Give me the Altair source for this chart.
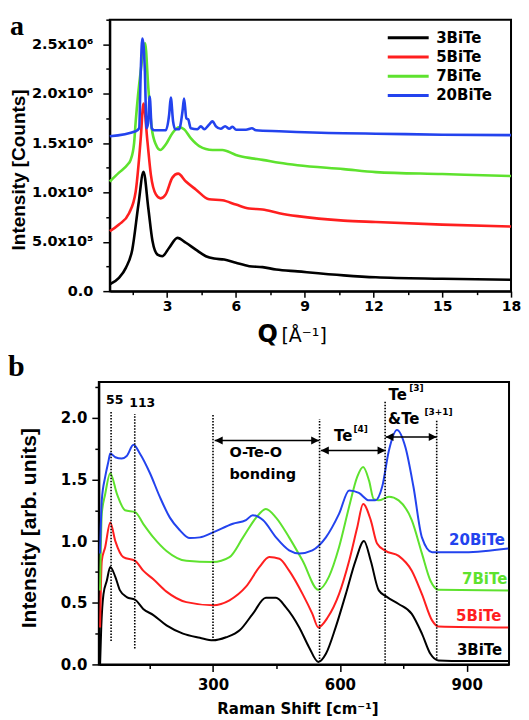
import altair as alt
import pandas as pd

SERIES = ["3BiTe", "5BiTe", "7BiTe", "20BiTe"]
COLORS = ["#000000", "#ff1f1f", "#5ee22e", "#2343ee"]
SANS = "DejaVu Sans"
TSANS = "Liberation Sans"
SERIF = "Liberation Serif"

# ---------------- panel a : Q [1/A] vs intensity (x1e6 counts) ----------------
A_Q_3 = [0.5, 0.9, 1.2, 1.48, 1.75, 1.97, 2.18, 2.36, 2.58, 2.79, 3.09, 3.45, 3.82, 4.25,
         4.69, 5.05, 5.49, 6.0, 6.58, 7.16, 7.75, 8.69, 10.7, 12.1, 15.0, 18.0]
A_I_3 = [0.07, 0.135, 0.236, 0.42, 0.88, 1.21, 0.84, 0.51, 0.37, 0.354, 0.44, 0.54, 0.49, 0.42,
         0.354, 0.33, 0.32, 0.287, 0.253, 0.243, 0.22, 0.2, 0.16, 0.14, 0.125, 0.115]
A_Q_5 = [0.5, 0.9, 1.34, 1.63, 1.78, 1.85, 1.97, 2.14, 2.29, 2.51, 2.72, 2.94, 3.23, 3.48, 3.82,
         4.25, 4.83, 5.41, 6.0, 6.58, 7.16, 7.89, 8.69, 10.7, 12.1, 15.0, 18.0]
A_I_5 = [0.607, 0.675, 0.79, 1.01, 1.35, 1.55, 1.90, 1.52, 1.18, 0.98, 0.94, 0.98, 1.15, 1.19, 1.11,
         1.03, 0.93, 0.92, 0.877, 0.837, 0.827, 0.79, 0.76, 0.714, 0.70, 0.674, 0.654]
A_Q_7 = [0.5, 0.9, 1.27, 1.41, 1.56, 1.63, 1.85, 2.04, 2.18, 2.33, 2.51, 2.7, 2.94, 3.23, 3.52,
         3.74, 4.03, 4.4, 4.98, 5.41, 6.0, 6.58, 7.16, 7.89, 8.69, 10.7, 12.1, 15.0, 18.0]
A_I_7 = [1.11, 1.2, 1.28, 1.33, 1.5, 1.72, 2.23, 2.51, 2.06, 1.65, 1.485, 1.43, 1.485, 1.6, 1.66,
         1.64, 1.55, 1.47, 1.43, 1.43, 1.38, 1.35, 1.33, 1.30, 1.275, 1.236, 1.206, 1.186, 1.166]
A_Q_20 = [0.5, 1.63, 1.78, 1.85, 1.92, 2.03, 2.1, 2.17, 2.24, 2.33, 2.43, 2.94, 3.09, 3.16, 3.26,
          3.35, 3.52, 3.67, 3.74, 3.84, 3.92, 4.03, 4.32, 4.47, 4.62, 4.83, 4.98, 5.13, 5.34,
          5.53, 5.71, 5.85, 6.01, 6.44, 6.7, 6.87, 7.89, 10.7, 12.1, 15.0, 18.0]
A_I_20 = [1.569, 1.62, 1.65, 2.23, 2.56, 2.23, 1.65, 1.70, 1.97, 1.65, 1.63, 1.63, 1.79, 1.96, 1.72,
          1.64, 1.64, 1.82, 1.95, 1.75, 1.74, 1.65, 1.64, 1.67, 1.64, 1.687, 1.72, 1.67, 1.645,
          1.67, 1.645, 1.665, 1.635, 1.635, 1.65, 1.63, 1.62, 1.60, 1.595, 1.585, 1.58]

A_XTICKS = [1.5, 3, 4.5, 6, 7.5, 9, 10.5, 12, 13.5, 15, 16.5, 18]
A_YTICKS = [i * 250000 for i in range(12)]

# ---------------- panel b : Raman shift vs intensity ----------------
B_X_3 = [33, 35.7, 41, 49, 57, 69, 80, 96, 116, 135, 159, 190, 229, 269, 300, 331, 363, 394, 425,
         449, 472, 504, 527, 549, 567, 590, 614, 637, 657, 673, 692, 712, 739, 770, 794, 814, 833,
         896, 998]
B_Y_3 = [0.0, 0.30, 0.57, 0.68, 0.79, 0.71, 0.60, 0.546, 0.524, 0.45, 0.40, 0.316, 0.25, 0.216,
         0.195, 0.22, 0.276, 0.41, 0.54, 0.54, 0.465, 0.30, 0.14, 0.02, 0.086, 0.30, 0.57, 0.84,
         1.0, 0.84, 0.60, 0.546, 0.49, 0.41, 0.25, 0.086, 0.032, 0.027, 0.027]
B_X_5 = [33, 37, 45, 57, 69, 88, 116, 135, 159, 190, 237, 300, 339, 378, 410, 433, 457, 480, 512,
         535, 549, 571, 598, 622, 641, 655, 673, 688, 708, 739, 770, 794, 818, 833, 998]
B_Y_5 = [0.30, 0.84, 0.95, 1.15, 1.0, 0.87, 0.84, 0.76, 0.69, 0.59, 0.505, 0.48, 0.52, 0.63, 0.79,
         0.87, 0.857, 0.76, 0.57, 0.41, 0.30, 0.38, 0.57, 0.84, 1.11, 1.30, 1.17, 0.98, 0.92, 0.88,
         0.76, 0.57, 0.357, 0.308, 0.30]
B_X_7 = [33, 37, 45, 57, 73, 92, 116, 135, 159, 190, 237, 300, 339, 371, 402, 425, 449, 480, 512,
         549, 574, 598, 622, 641, 655, 669, 680, 692, 716, 739, 770, 794, 814, 833, 998]
B_Y_7 = [0.60, 1.22, 1.38, 1.55, 1.38, 1.25, 1.235, 1.14, 1.03, 0.92, 0.84, 0.83, 0.87, 1.03, 1.19,
         1.26, 1.19, 1.03, 0.84, 0.605, 0.71, 0.95, 1.28, 1.52, 1.60, 1.49, 1.34, 1.33, 1.36, 1.33,
         1.17, 0.90, 0.68, 0.605, 0.60]
B_X_20 = [33, 37, 45, 53, 57, 69, 84, 96, 112, 127, 151, 174, 198, 221, 245, 269, 300, 347, 378,
          394, 418, 449, 480, 504, 535, 567, 598, 622, 645, 669, 684, 700, 716, 735, 755, 774, 794,
          818, 896, 998]
B_Y_20 = [0.90, 1.33, 1.52, 1.65, 1.71, 1.68, 1.67, 1.69, 1.78, 1.71, 1.55, 1.36, 1.19, 1.09, 1.024,
          1.03, 1.07, 1.14, 1.17, 1.21, 1.17, 1.03, 0.925, 0.90, 0.925, 1.03, 1.22, 1.41, 1.39, 1.33,
          1.33, 1.44, 1.735, 1.90, 1.76, 1.44, 1.03, 0.91, 0.91, 0.94]

B_XTICKS = [150, 300, 450, 600, 750, 900]
B_YTICKS = [i * 0.25 for i in range(10)]

# dotted guide lines
VL_X = [59, 115, 300, 552, 707, 829]
VL_Y1 = [0.19, 0.13, 0.19, 0.02, 0.005, 0.046]
VL_Y2 = [2.05, 2.03, 2.03, 1.99, 2.13, 1.98]

# double arrows
AR_X1 = [304, 555, 708]
AR_X2 = [551, 708, 829]
AR_Y = [1.816, 1.735, 1.843]

# annotation texts
AN_T = ["55", "113", "O-Te-O", "bonding", "Te", "Te", "&Te"]
AN_X = [47, 102, 339, 339, 586, 715, 714]
AN_Y = [2.108, 2.086, 1.681, 1.50, 1.81, 2.146, 1.951]
AN_FS = [12.5, 12.5, 14.5, 14.5, 15, 15, 15]
SUP_T = ["[4]", "[3]", "[3+1]"]
SUP_X = [632, 764, 800]
SUP_Y = [1.884, 2.216, 2.019]

# right-hand series labels
RL_T = ["20BiTe", "7BiTe", "5BiTe", "3BiTe"]
RL_X = [990, 996, 982, 984]
RL_Y = [0.965, 0.649, 0.351, 0.078]
RL_C = [COLORS[3], COLORS[2], COLORS[1], COLORS[0]]

# ---------------- build tables ----------------
rows = []
for s, qs, iv in zip(SERIES, [A_Q_3, A_Q_5, A_Q_7, A_Q_20], [A_I_3, A_I_5, A_I_7, A_I_20]):
    for q, v in zip(qs, iv):
        rows.append({"q": q, "i": v * 1e6, "s": s})
df_a = pd.DataFrame(rows)

rows = []
for s, xs, ys in zip(SERIES, [B_X_3, B_X_5, B_X_7, B_X_20], [B_Y_3, B_Y_5, B_Y_7, B_Y_20]):
    for x, y in zip(xs, ys):
        rows.append({"x": x, "y": y, "s": s})
df_b = pd.DataFrame(rows)

color_scale = alt.Scale(domain=SERIES, range=COLORS)

# ---------------- panel a chart ----------------
# the top plot area starts 11px right of the shared column origin
A_W, A_H, A_OFF = 413, 272, 11
SX_A = alt.Scale(domain=[0.5, 18], nice=False, zero=False, range=[A_OFF, A_W])
SY_A = alt.Scale(domain=[0, 2.75e6], nice=False)

ya_label = ("datum.value % 500000 != 0 ? '' : datum.value == 0 ? '0.0' : "
            "datum.value < 1000000 ? format(datum.value / 100000, '.1f') + 'x10\u2075' : "
            "format(datum.value / 1000000, '.1f') + 'x10\u2076'")

lines_a = alt.Chart(df_a).mark_line(strokeWidth=2.6, interpolate="monotone").encode(
    x=alt.X("q:Q", scale=SX_A, axis=alt.Axis(
        values=A_XTICKS, title=None, grid=False,
        labelExpr="datum.value % 3 == 0 ? format(datum.value, 'd') : ''",
        tickSize={"condition": {"test": "datum.value % 3 == 0", "value": 6}, "value": 3.5},
        labelPadding=2, labelFont=SANS, labelFontWeight="bold", labelFontSize=14,
        labelColor="black", labelFlush=False, labelOverlap=False)),
    y=alt.Y("i:Q", scale=SY_A, axis=alt.Axis(
        values=A_YTICKS, grid=False, labelExpr=ya_label, offset=-A_OFF,
        tickSize={"condition": {"test": "datum.value % 500000 == 0", "value": 7}, "value": 4},
        labelPadding=10, labelFont=SANS, labelFontWeight="bold", labelFontSize=14.5,
        labelColor="black", labelFlush=False, labelOverlap=False,
        title="Intensity [Counts]", titleFont=TSANS, titleFontWeight="bold", titleFontSize=19,
        titleColor="black", titleAngle=270, titleBaseline="alphabetic", titleAlign="center",
        titleX=-85, titleY=150)),
    color=alt.Color("s:N", scale=color_scale, sort=SERIES, legend=alt.Legend(
        title=None, orient="none", legendX=300, legendY=8, padding=0,
        symbolType="M-2.5,0H2.5", symbolSize=269, symbolStrokeWidth=3,
        labelFont=SANS, labelFontWeight="bold", labelFontSize=15, labelColor="black",
        labelOffset=18, rowPadding=1.3)),
)

frame_a = alt.Chart(pd.DataFrame({"k": [0]})).mark_rect(
    fill="transparent", stroke="black", strokeWidth=2
).encode(x=alt.value(A_OFF), x2=alt.value(A_W), y=alt.value(0), y2=alt.value(A_H))

lab_a = alt.Chart(pd.DataFrame({"t": ["a"]})).mark_text(
    font=SERIF, fontSize=28, fontWeight="bold", align="left", baseline="alphabetic", color="black"
).encode(text="t:N", x=alt.value(-89), y=alt.value(15))

q_lab = alt.Chart(pd.DataFrame({"t": ["Q"]})).mark_text(
    font=SANS, fontSize=24, fontWeight="bold", align="left", baseline="alphabetic", color="black"
).encode(text="t:N", x=alt.value(159), y=alt.value(323))

q_unit = alt.Chart(pd.DataFrame({"t": ["[\u00c5\u207b\u00b9]"]})).mark_text(
    font=SANS, fontSize=19, fontWeight="normal", align="left", baseline="alphabetic", color="black"
).encode(text="t:N", x=alt.value(183), y=alt.value(323))

top = alt.layer(frame_a, lines_a, lab_a, q_lab, q_unit).properties(width=A_W, height=A_H)

# ---------------- panel b chart ----------------
B_W, B_H = 411, 283
SX_B = alt.Scale(domain=[30, 1000], nice=False, zero=False)
SY_B = alt.Scale(domain=[0, 2.29], nice=False)

AX_BX = alt.Axis(
    values=B_XTICKS, grid=False,
    labelExpr="datum.value % 300 == 0 ? format(datum.value, 'd') : ''",
    tickSize={"condition": {"test": "datum.value % 300 == 0", "value": 7}, "value": 4},
    labelPadding=6, labelFont=SANS, labelFontWeight="bold", labelFontSize=15,
    labelColor="black", labelFlush=False, labelOverlap=False,
    title="Raman Shift [cm\u207b\u00b9]", titleFont=SANS, titleFontWeight="bold",
    titleFontSize=15, titleColor="black", titleBaseline="alphabetic", titleAlign="center",
    titleX=199, titleY=49)
AX_BY = alt.Axis(
    values=B_YTICKS, grid=False,
    labelExpr="abs(datum.value * 2 - round(datum.value * 2)) < 0.001 ? format(datum.value, '.1f') : ''",
    tickSize={"condition": {"test": "abs(datum.value * 2 - round(datum.value * 2)) < 0.001", "value": 7}, "value": 4},
    labelPadding=5, labelFont=SANS, labelFontWeight="bold", labelFontSize=15,
    labelColor="black", labelFlush=False, labelOverlap=False,
    title="Intensity [arb. units]", titleFont=TSANS, titleFontWeight="bold", titleFontSize=21,
    titleColor="black", titleAngle=270, titleBaseline="alphabetic", titleAlign="center",
    titleX=-63, titleY=146)


def bx(field):
    return alt.X(field, scale=SX_B, axis=AX_BX)


def by(field):
    return alt.Y(field, scale=SY_B, axis=AX_BY)


frame_b = alt.Chart(pd.DataFrame({"k": [0]})).mark_rect(
    fill="transparent", stroke="black", strokeWidth=2
).encode(x=alt.value(0), x2=alt.value(B_W), y=alt.value(0), y2=alt.value(B_H))

lines_b = alt.Chart(df_b).mark_line(strokeWidth=2, interpolate="monotone").encode(
    x=bx("x:Q"), y=by("y:Q"),
    color=alt.Color("s:N", scale=color_scale, sort=SERIES, legend=None),
)

vlines = alt.Chart(pd.DataFrame({"x": VL_X, "y1": VL_Y1, "y2": VL_Y2})).mark_rule(
    color="black", strokeWidth=1.6, strokeDash=[1.5, 1.5]
).encode(x=bx("x:Q"), y=by("y1:Q"), y2="y2:Q")

arrows = pd.DataFrame({"x1": AR_X1, "x2": AR_X2, "y": AR_Y})
shafts = alt.Chart(arrows).mark_rule(color="black", strokeWidth=1.5).encode(
    x=bx("x1:Q"), x2="x2:Q", y=by("y:Q"))
head_l = alt.Chart(arrows).mark_point(
    shape="M0,0L2,-1L2,1Z", filled=True, size=64, color="black", opacity=1, strokeWidth=0
).encode(x=bx("x1:Q"), y=by("y:Q"))
head_r = alt.Chart(arrows).mark_point(
    shape="M0,0L-2,-1L-2,1Z", filled=True, size=64, color="black", opacity=1, strokeWidth=0
).encode(x=bx("x2:Q"), y=by("y:Q"))

ann = alt.Chart(pd.DataFrame({"x": AN_X, "y": AN_Y, "t": AN_T, "fs": AN_FS})).mark_text(
    font=SANS, fontWeight="bold", align="left", baseline="alphabetic", color="black"
).encode(x=bx("x:Q"), y=by("y:Q"), text="t:N", size=alt.Size("fs:Q", scale=None, legend=None))

sup = alt.Chart(pd.DataFrame({"x": SUP_X, "y": SUP_Y, "t": SUP_T})).mark_text(
    font=SANS, fontWeight="bold", fontSize=9, align="left", baseline="alphabetic", color="black"
).encode(x=bx("x:Q"), y=by("y:Q"), text="t:N")

rlab = alt.Chart(pd.DataFrame({"x": RL_X, "y": RL_Y, "t": RL_T, "c": RL_C})).mark_text(
    font=SANS, fontWeight="bold", fontSize=15, align="right", baseline="alphabetic"
).encode(x=bx("x:Q"), y=by("y:Q"), text="t:N", color=alt.Color("c:N", scale=None, legend=None))

lab_b = alt.Chart(pd.DataFrame({"t": ["b"]})).mark_text(
    font=SERIF, fontSize=30, fontWeight="bold", align="left", baseline="alphabetic", color="black"
).encode(text="t:N", x=alt.value(-91), y=alt.value(-6))

bottom = alt.layer(frame_b, lines_b, vlines, shafts, head_l, head_r, ann, sup, rlab, lab_b).properties(
    width=B_W, height=B_H)

chart = alt.vconcat(top, bottom, spacing=5).resolve_scale(
    color="independent"
).properties(
    padding={"top": 3, "left": 0, "right": 0, "bottom": 0}
).configure_view(
    strokeWidth=0
).configure_axis(
    domainColor="black", domainWidth=2, tickColor="black", tickWidth=1.5
)

chart.save("out.html", embed_options={"renderer": "svg", "actions": False})
